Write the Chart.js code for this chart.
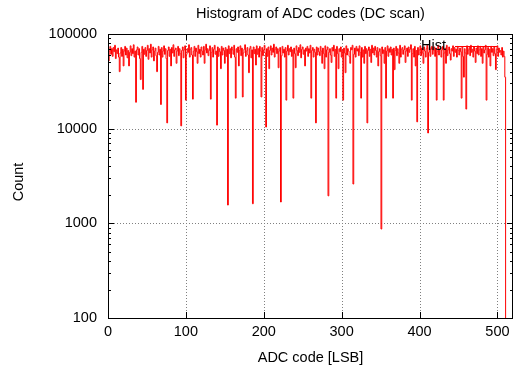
<!DOCTYPE html>
<html><head><meta charset="utf-8">
<script src="https://cdn.jsdelivr.net/npm/chart.js@4.4.0/dist/chart.umd.min.js"></script>
<style>html,body{margin:0;padding:0;background:#fff;}canvas{display:block;}</style>
</head><body>
<canvas id="c" width="515" height="371"></canvas>
<script>
const chartTitle = 'Histogram of ADC codes (DC scan)';
const xTitle = 'ADC code [LSB]';
const yTitle = 'Count';
const legendLabel = 'Hist';
const xTicks = [0, 100, 200, 300, 400, 500];
const yTicks = [100, 1000, 10000, 100000];
// counts per ADC code 0..511, in thousands
const countsK = [
 27,52,66,74,61,70,58,72,65,76,55,68,62,71,57,40,
 63,72,58,69,46,66,74,60,71,56,67,46,64,75,59,70,
 62,77,57,66,19,68,73,60,70,55,33,64,74,26,69,61,
 72,58,67,76,54,70,63,78,57,68,73,52,66,71,59,40,
 64,74,60,69,18,72,57,66,75,61,70,55,11.5,67,73,58,
 69,46,72,63,77,58,68,71,49,66,74,59,70,62,10.7,67,
 73,56,68,75,20,61,70,64,77,57,69,72,60,20.5,66,74,
 58,71,65,49,76,62,69,57,73,66,60,74,49,68,78,63,
 70,59,67,75,20.5,64,72,57,69,76,61,66,10.9,73,58,70,
 65,43,74,60,71,67,49,72,58,69,1.56,75,62,70,56,73,
 68,61,76,57,21,70,64,73,46,67,75,59,71,21.6,63,69,
 77,58,66,72,60,39,70,74,56,68,1.61,73,62,69,47,75,
 61,70,57,74,66,21.6,72,59,68,76,63,10.4,70,58,73,43,
 67,75,60,71,64,78,57,69,73,62,70,44,66,72,1.68,59,
 74,63,69,57,72,20,66,76,60,70,65,73,58,68,21,71,
 62,44,75,67,59,72,64,77,56,69,73,61,68,46,71,66,
 74,58,70,63,76,21,67,72,57,69,64,11.5,73,60,71,65,
 59,74,66,49,71,62,43,75,57,68,73,1.95,64,70,60,50,
 72,66,76,58,69,21,74,62,43,70,65,73,57,68,20,71,
 63,39,75,60,70,66,58,49,72,68,76,2.6,61,71,57,74,
 66,70,59,75,64,21,72,57,68,49,74,62,70,11.5,67,73,
 58,69,50,76,63,71,60,74,67,57,72,46,65,70,59,0.87,
 73,62,68,49,72,21,66,75,58,70,64,73,60,69,21,71,
 42,67,74,59,70,63,49,76,57,69,72,61,68,75,50,66,
 71,58,73,64,69,77,20,62,70,57,74,46,67,11.8,72,60,
 68,75,59,71,63,49,73,66,57,70,76,9,64,72,58,69,
 74,61,67,73,58,70,20,65,76,60,69,72,57,68,74,20,
 63,71,49,76,59,68,73,62,53,70,66,75,58,72,64,69,
 57,74,67,60,71,65,21,73,58,35,70,63,16.1,75,61,68,
 72,59,76,64,69,57,73,66,50,71,62,75,60,68,74,58,
 70,49,73,63,68,76,20,61,72,57,69,46,74,64,70,59,
 73,62,42,69,75,58,71,64,67,60,72,57,66,58,35,0.01
];

const FONT_FAMILY = '"Liberation Sans", Arial, sans-serif';
const FONT_SIZE = 14.5;
const FONT = FONT_SIZE + 'px ' + FONT_FAMILY;

const points = countsK.map((v, i) => ({ x: i, y: v * 1000 }));

const deco = {
  id: 'deco',
  beforeDatasetsDraw(chart) {
    const { ctx, chartArea: a, scales: { x, y } } = chart;
    ctx.save();
    ctx.strokeStyle = '#808080';
    ctx.lineWidth = 1;
    ctx.setLineDash([1, 2]);
    xTicks.forEach(v => {
      const px = Math.round(x.getPixelForValue(v)) + 0.5;
      if (px <= a.left + 1 || px >= a.right - 1) return;
      ctx.beginPath(); ctx.moveTo(px, a.top); ctx.lineTo(px, a.bottom); ctx.stroke();
    });
    yTicks.forEach(v => {
      const py = Math.round(y.getPixelForValue(v)) + 0.5;
      if (py <= a.top + 1 || py >= a.bottom - 1) return;
      ctx.beginPath(); ctx.moveTo(a.left, py); ctx.lineTo(a.right, py); ctx.stroke();
    });
    ctx.restore();
  },
  afterDatasetsDraw(chart) {
    const { ctx, chartArea: a, scales: { x, y } } = chart;
    ctx.save();
    ctx.setLineDash([]);
    ctx.strokeStyle = '#000';
    ctx.lineWidth = 1;
    const major = 6, minor = 3;
    ctx.beginPath();
    xTicks.forEach(v => {
      const px = Math.round(x.getPixelForValue(v)) + 0.5;
      ctx.moveTo(px, a.bottom); ctx.lineTo(px, a.bottom - major);
      ctx.moveTo(px, a.top); ctx.lineTo(px, a.top + major);
    });
    yTicks.forEach((d, k) => {
      const py = Math.round(y.getPixelForValue(d)) + 0.5;
      ctx.moveTo(a.left, py); ctx.lineTo(a.left + major, py);
      ctx.moveTo(a.right, py); ctx.lineTo(a.right - major, py);
      if (k < yTicks.length - 1) {
        for (let m = 2; m <= 9; m++) {
          const pm = Math.round(y.getPixelForValue(d * m)) + 0.5;
          ctx.moveTo(a.left, pm); ctx.lineTo(a.left + minor, pm);
          ctx.moveTo(a.right, pm); ctx.lineTo(a.right - minor, pm);
        }
      }
    });
    ctx.stroke();
    ctx.strokeRect(a.left + 0.5, a.top + 0.5, a.right - a.left - 1, a.bottom - a.top);
    ctx.font = FONT;
    ctx.fillStyle = '#000';
    ctx.textAlign = 'right';
    ctx.textBaseline = 'middle';
    ctx.fillText(legendLabel, a.right - 67, a.top + 12);
    ctx.strokeStyle = '#ff0000';
    ctx.lineWidth = 1;
    ctx.beginPath();
    ctx.moveTo(a.right - 58, a.top + 12.5); ctx.lineTo(a.right - 16, a.top + 12.5);
    ctx.stroke();
    const cx = (a.left + a.right) / 2;
    ctx.fillStyle = '#000';
    ctx.textAlign = 'center';
    ctx.textBaseline = 'alphabetic';
    ctx.fillText(chartTitle, cx, 17.5);
    ctx.fillText(xTitle, cx, 362);
    ctx.save();
    ctx.translate(23, (a.top + a.bottom) / 2 + 6);
    ctx.rotate(-Math.PI / 2);
    ctx.fillText(yTitle, 0, 0);
    ctx.restore();
    ctx.restore();
  }
};

new Chart(document.getElementById('c'), {
  type: 'line',
  data: {
    datasets: [{
      label: legendLabel,
      data: points,
      borderColor: '#ff0000',
      borderWidth: 1,
      pointRadius: 0,
      stepped: 'middle',
      fill: false
    }]
  },
  options: {
    responsive: false,
    devicePixelRatio: 1,
    animation: false,
    layout: { padding: { top: 34, right: 2, left: 0, bottom: 0 } },
    plugins: { legend: { display: false }, title: { display: false }, tooltip: { enabled: false } },
    scales: {
      x: {
        type: 'linear', min: 0, max: 520,
        afterBuildTicks: s => { s.ticks = xTicks.map(v => ({ value: v })); },
        afterFit: s => { s.height = 53; },
        grid: { display: false, drawTicks: false },
        border: { display: false },
        ticks: { color: '#000', padding: 5, maxRotation: 0, font: { family: FONT_FAMILY, size: FONT_SIZE }, callback: v => String(v) }
      },
      y: {
        type: 'logarithmic', min: 100, max: 100000,
        afterBuildTicks: s => { s.ticks = yTicks.map(v => ({ value: v })); },
        afterFit: s => { s.width = 108; },
        grid: { display: false, drawTicks: false },
        border: { display: false },
        ticks: { color: '#000', padding: 11, font: { family: FONT_FAMILY, size: FONT_SIZE }, callback: v => String(v) }
      }
    }
  },
  plugins: [deco]
});
</script>
</body></html>
